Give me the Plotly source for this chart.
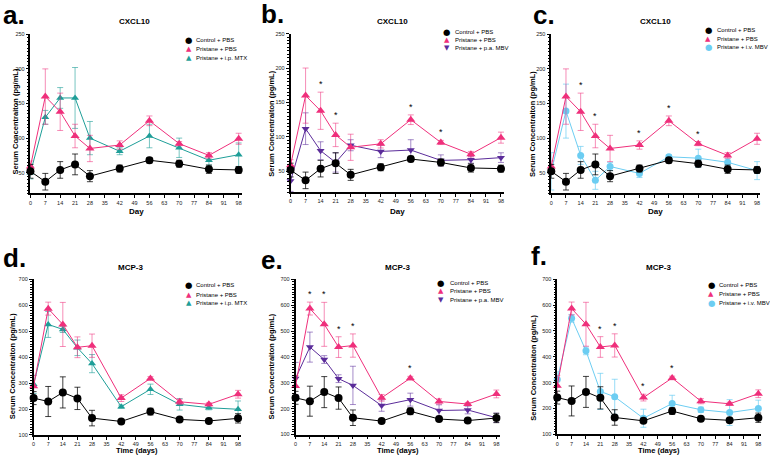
import plotly.graph_objects as go

days = [0, 7, 14, 21, 28, 42, 56, 70, 84, 98]
xticks = [0, 7, 14, 21, 28, 35, 42, 49, 56, 63, 70, 77, 84, 91, 98]

# CXCL10
ctrl_c = [52, 37, 54, 62, 45, 56, 68, 63, 55, 54]
ctrl_c_err = [10, 12, 12, 15, 8, 5, 4, 5, 6, 5]
pbs_c = [59, 160, 138, 103, 85, 90, 125, 92, 75, 99]
pbs_c_err = [8, 40, 27, 17, 19, 6, 7, 3, 4, 8]
mtx_c = [50, 130, 158, 158, 100, 81, 103, 86, 68, 76]
mtx_c_err = [9, 10, 15, 44, 24, 5, 17, 14, 7, 17]
pa_c = [36, 112, 80, 63, 88, 79, 81, 66, 67, 70]
pa_c_err = [15, 23, 13, 14, 8, 9, 15, 8, 5, 7]
iv_c = [52, 139, 75, 39, 59, 49, 73, 71, 65, 53]
iv_c_err = [27, 39, 13, 13, 6, 6, 3, 13, 5, 13]

# MCP-3
ctrl_m = [242, 229, 264, 241, 165, 152, 190, 160, 154, 164]
ctrl_m_err = [25, 58, 60, 43, 30, 6, 13, 6, 7, 18]
pbs_m = [288, 587, 526, 438, 444, 242, 318, 228, 218, 257]
pbs_m_err = [40, 25, 85, 40, 45, 13, 7, 10, 6, 15]
mtx_m = [295, 526, 507, 436, 375, 209, 276, 218, 205, 199]
mtx_m_err = [35, 50, 12, 30, 35, 6, 20, 22, 8, 32]
pa_m = [317, 438, 390, 316, 290, 212, 235, 193, 195, 165]
pa_m_err = [62, 58, 15, 15, 74, 22, 25, 22, 15, 18]
iv_m = [312, 549, 423, 266, 245, 162, 219, 195, 184, 200]
iv_m_err = [30, 15, 15, 70, 68, 35, 32, 10, 50, 32]

stars_b = [14, 21, 56, 70]
stars_c = [14, 21, 42, 56, 70]
stars_e = [7, 14, 21, 28, 56]
stars_f = [21, 28, 42, 56]

W, H = 770, 457
FONT = "Liberation Sans, Arial, sans-serif"
PINK = "#EF2F7B"
PINK_E = "rgba(239,47,123,0.55)"
TEAL = "#1E9E98"
TEAL_E = "rgba(30,158,152,0.6)"
PURP = "#5B2C9A"
PURP_E = "rgba(91,44,154,0.55)"
LBLUE = "#6CCDF2"
LBLUE_E = "rgba(108,205,242,0.7)"
BLACK = "#000000"
BLACK_E = "rgba(0,0,0,0.75)"

treat = {
    "mtx": ("Pristane + i.p. MTX", TEAL, TEAL_E, "triangle-up", 7),
    "pa": ("Pristane + p.a. MBV", PURP, PURP_E, "triangle-down", 7),
    "iv": ("Pristane + i.v. MBV", LBLUE, LBLUE_E, "circle", 7),
}
sym_char = {"circle": "\u25cf", "triangle-up": "\u25b2", "triangle-down": "\u25bc"}
sym_size = {"circle": 8.5, "triangle-up": 7, "triangle-down": 7}

panels = [
    dict(letter="a.", title="CXCL10", xt="Day", yr=[20, 250], dt=50, mdt=5,
         x0=28.5, x1=240.5, y0=31.7, y1=193, ctrl=(ctrl_c, ctrl_c_err), pbs=(pbs_c, pbs_c_err),
         tr=("mtx", mtx_c, mtx_c_err), stars=[], tpos=(133, 19), lpos=(-1, 12),
         ytpos=(13, 120), xtpos=211, leg=(187, 193, [37, 47, 56])),
    dict(letter="b.", title="CXCL10", xt="Day", yr=[20, 250], dt=50, mdt=5,
         x0=289.3, x1=503.5, y0=31, y1=191.6, ctrl=(ctrl_c, ctrl_c_err), pbs=(pbs_c, pbs_c_err),
         tr=("pa", pa_c, pa_c_err), stars=stars_b, tpos=(392, 19), lpos=(258, 11),
         ytpos=(270, 122), xtpos=211, leg=(446, 452, [29, 37, 46])),
    dict(letter="c.", title="CXCL10", xt="Day", yr=[20, 250], dt=50, mdt=5,
         x0=550.7, x1=760.2, y0=31.7, y1=193, ctrl=(ctrl_c, ctrl_c_err), pbs=(pbs_c, pbs_c_err),
         tr=("iv", iv_c, iv_c_err), stars=stars_c, tpos=(655, 19), lpos=(530, 12),
         ytpos=(532, 123), xtpos=211, leg=(708, 715, [27, 36, 45])),
    dict(letter="d.", title="MCP-3", xt="Time (days)", yr=[100, 700], dt=100, mdt=10,
         x0=31.7, x1=239.8, y0=280, y1=437.7, ctrl=(ctrl_m, ctrl_m_err), pbs=(pbs_m, pbs_m_err),
         tr=("mtx", mtx_m, mtx_m_err), stars=[], tpos=(129, 268), lpos=(-1, 258),
         ytpos=(10, 368), xtpos=453, leg=(187, 193, [286, 296, 304])),
    dict(letter="e.", title="MCP-3", xt="Time (days)", yr=[100, 700], dt=100, mdt=10,
         x0=294.3, x1=498.8, y0=280, y1=437.3, ctrl=(ctrl_m, ctrl_m_err), pbs=(pbs_m, pbs_m_err),
         tr=("pa", pa_m, pa_m_err), stars=stars_e, tpos=(397, 268), lpos=(258, 260),
         ytpos=(270, 368), xtpos=453, leg=(440, 447, [284, 292, 301])),
    dict(letter="f.", title="MCP-3", xt="Time (days)", yr=[100, 700], dt=100, mdt=10,
         x0=556.7, x1=761.4, y0=280, y1=437, ctrl=(ctrl_m, ctrl_m_err), pbs=(pbs_m, pbs_m_err),
         tr=("iv", iv_m, iv_m_err), stars=stars_f, tpos=(658, 268), lpos=(528, 256),
         ytpos=(533, 370), xtpos=453, leg=(711, 717, [286, 295, 304])),
]

def px(x):
    return x / W

def py(y):
    return 1 - y / H

def note(text, x, y, size, family=FONT, color="black", xanchor="center", angle=0):
    return dict(text=text, x=px(x), y=py(y), xref="paper", yref="paper", showarrow=False,
                xanchor=xanchor, yanchor="middle", textangle=angle,
                font=dict(size=size, family=family, color=color))

fig = go.Figure()
annotations = []
layout = {}

for i, p in enumerate(panels, start=1):
    xa = "x" if i == 1 else f"x{i}"
    ya = "y" if i == 1 else f"y{i}"
    key = "" if i == 1 else str(i)
    tkey, tvals, terr = p["tr"]
    tname, tcol, tcolE, tsym, tsize = treat[tkey]

    series = [
        (tname, tvals, terr, tcol, tcolE, tsym, tsize),
        ("Pristane + PBS", p["pbs"][0], p["pbs"][1], PINK, PINK_E, "triangle-up", 8),
        ("Control + PBS", p["ctrl"][0], p["ctrl"][1], BLACK, BLACK_E, "circle", 8),
    ]
    for name, vals, err, col, colE, sym, size in series:
        fig.add_trace(go.Scatter(
            x=days, y=vals, mode="lines+markers", name=name, showlegend=False,
            xaxis=xa, yaxis=ya, cliponaxis=False,
            line=dict(color=col, width=1),
            marker=dict(color=col, symbol=sym, size=size, line=dict(width=0)),
            error_y=dict(type="data", array=err, visible=True, color=colE,
                         thickness=1, width=3),
        ))

    layout["xaxis" + key] = dict(
        domain=[px(p["x0"]), px(p["x1"])], range=[0, 99.5], anchor=ya,
        tickmode="array", tickvals=xticks, ticktext=[str(t) for t in xticks],
        ticks="outside", ticklen=3, tickwidth=1, tickcolor="black",
        showline=True, linecolor="black", linewidth=1.5, showgrid=False, zeroline=False,
        tickfont=dict(size=5.5, color="#222", family=FONT),
    )
    layout["yaxis" + key] = dict(
        domain=[py(p["y1"]), py(p["y0"])], range=p["yr"], anchor=xa,
        tickmode="linear", tick0=0, dtick=p["dt"],
        ticks="outside", ticklen=3, tickwidth=1, tickcolor="black",
        minor=dict(dtick=p["mdt"], ticks="outside", ticklen=1.5, tickcolor="black", tickwidth=0.8),
        showline=True, linecolor="black", linewidth=1.5, showgrid=False, zeroline=False,
        tickfont=dict(size=5.5, color="#222", family=FONT),
    )

    annotations.append(note("<b>%s</b>" % p["title"], p["tpos"][0], p["tpos"][1], 8))
    annotations.append(note("<b>%s</b>" % p["letter"], p["lpos"][0], p["lpos"][1], 26, xanchor="left"))
    annotations.append(note("<b>Serum Concentraiton (pg/mL)</b>", p["ytpos"][0], p["ytpos"][1], 7.5, angle=-90))
    annotations.append(note("<b>%s</b>" % p["xt"], (p["x0"] + p["x1"]) / 2, p["xtpos"],
                            8 if p["xt"] == "Day" else 7.5))

    mx, tx, rows = p["leg"]
    leg_items = [("Control + PBS", BLACK, "circle"), ("Pristane + PBS", PINK, "triangle-up"),
                 (tname, tcol, tsym)]
    for (lname, lcol, lsym), ry in zip(leg_items, rows):
        annotations.append(note(sym_char[lsym], mx, ry, sym_size[lsym], family="DejaVu Sans", color=lcol))
        annotations.append(note(lname, tx, ry, 6, xanchor="left"))

    pv, pe = p["pbs"]
    for d in p["stars"]:
        k = days.index(d)
        annotations.append(dict(text="*", x=d, y=pv[k] + pe[k], xref=xa, yref=ya,
                                showarrow=False, xanchor="center", yanchor="bottom", yshift=1,
                                font=dict(size=9, family=FONT, color="black")))

fig.update_layout(
    width=W, height=H, margin=dict(l=0, r=0, t=0, b=0),
    paper_bgcolor="white", plot_bgcolor="white",
    annotations=annotations, showlegend=False, font=dict(family=FONT),
    **layout,
)

fig.write_html("out.html", config={"displayModeBar": False},
               post_script="document.body.style.margin='0';document.body.style.overflow='hidden';")
